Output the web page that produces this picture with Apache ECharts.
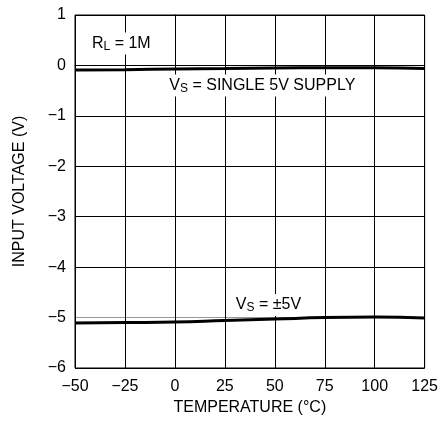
<!DOCTYPE html>
<html><head><meta charset="utf-8">
<script src="https://cdn.jsdelivr.net/npm/echarts@6/dist/echarts.min.js"></script>
<style>html,body{margin:0;padding:0;background:#fff}#c{width:441px;height:421px}</style>
</head><body><div id="c"></div>
<script>
const temperatures = [-50, -25, 0, 25, 50, 75, 100, 125];
const singleSupply = [-0.09, -0.085, -0.07, -0.06, -0.05, -0.045, -0.045, -0.06];
const dualSupply = [-5.11, -5.10, -5.09, -5.06, -5.03, -5.00, -4.99, -5.01];
const xTicks = [-50, -25, 0, 25, 50, 75, 100, 125];
const yTicks = [-6, -5, -4, -3, -2, -1, 0, 1];

const FONT = "'Liberation Sans', Arial, sans-serif";
const chart = echarts.init(document.getElementById('c'), null, {renderer: 'canvas'});
const minus = v => String(v).replace('-', '\u2212');

const richStyle = {
  n: {fontSize: 16, lineHeight: 18, fontFamily: FONT, color: '#000'},
  s: {fontSize: 12, lineHeight: 11, fontFamily: FONT, color: '#000', verticalAlign: 'bottom'}
};

const option = {
  animation: false,
  backgroundColor: '#fff',
  grid: {left: 75, right: 14, top: 15, bottom: 53, show: true, borderColor: '#000', borderWidth: 1},
  xAxis: {
    type: 'value', min: -50, max: 125, interval: 25,
    name: 'TEMPERATURE (\u00B0C)', nameLocation: 'middle', nameGap: 25,
    nameTextStyle: {fontSize: 16, fontFamily: FONT, color: '#000'},
    axisLine: {show: true, lineStyle: {color: '#000', width: 1}},
    axisTick: {show: false},
    axisLabel: {fontSize: 16, fontFamily: FONT, color: '#000', margin: 11, formatter: minus},
    splitLine: {show: true, lineStyle: {color: '#000', width: 1}}
  },
  yAxis: {
    type: 'value', min: -6, max: 1, interval: 1,
    name: 'INPUT VOLTAGE (V)', nameLocation: 'middle', nameGap: 47,
    nameTextStyle: {fontSize: 16, fontFamily: FONT, color: '#000'},
    axisLine: {show: true, lineStyle: {color: '#000', width: 1}},
    axisTick: {show: false},
    axisLabel: {fontSize: 16, fontFamily: FONT, color: '#000', margin: 9, formatter: minus},
    splitLine: {show: true, lineStyle: {color: ['#000', '#999', '#000', '#000', '#000', '#000', '#999', '#000'], width: 1}}
  },
  series: [
    {type: 'line', data: temperatures.map((t, i) => [t, singleSupply[i]]), smooth: true, symbol: 'none',
     lineStyle: {color: '#000', width: 3}, z: 3},
    {type: 'line', data: temperatures.map((t, i) => [t, dualSupply[i]]), smooth: true, symbol: 'none',
     lineStyle: {color: '#000', width: 3}, z: 3}
  ]
};
chart.setOption(option);

const notes = [
  {at: [-43, 0.435], text: '{n|R}{s|L}{n| = 1M}'},
  {at: [-4.3, -0.40], text: '{n|V}{s|S}{n| = SINGLE 5V SUPPLY}'},
  {at: [29, -4.75], text: '{n|V}{s|S}{n| = \u00B15V}'}
];
chart.setOption({
  graphic: notes.map(n => {
    const p = chart.convertToPixel({gridIndex: 0}, n.at);
    return {
      type: 'text', x: p[0], y: p[1], z: 10,
      style: {text: n.text, rich: richStyle, align: 'left', verticalAlign: 'middle',
              backgroundColor: '#fff', padding: [2, 3, 2, 3]}
    };
  })
});
</script></body></html>
